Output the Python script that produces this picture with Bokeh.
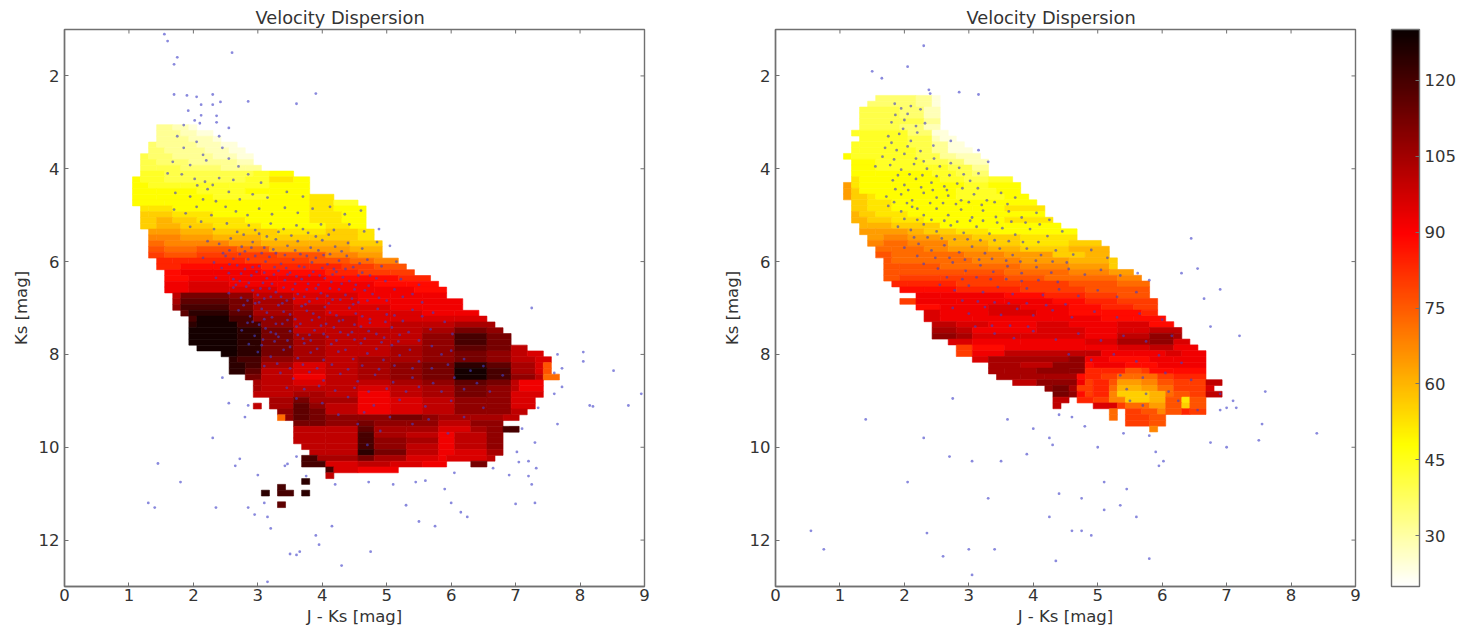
import math
from bokeh.plotting import figure
from bokeh.layouts import row
from bokeh.models import ColumnDataSource, LinearColorMapper, ColorBar, FixedTicker
from bokeh.embed import file_html
from bokeh.resources import INLINE

TITLE = "Velocity Dispersion"
X_LABEL = "J - Ks [mag]"
Y_LABEL = "Ks [mag]"
X_TICKS = [0, 1, 2, 3, 4, 5, 6, 7, 8, 9]
Y_TICKS = [2, 4, 6, 8, 10, 12]
BAR_TICKS = [30, 45, 60, 75, 90, 105, 120]
V_MIN, V_MAX = 20, 130
BIN_X, BIN_Y = 0.125, 0.125
LEFT_X0, LEFT_Y0 = 1.055, 3.05
RIGHT_X0, RIGHT_Y0 = 1.055, 2.42
LEVELS = {c: 24 + 4 * i for i, c in enumerate("abcdefghijklmnopqrstuvwxyzA")}

# each row of bins: first bin, then <level><end bin>; "_" = empty bins
LEFT_ROWS = [
"3 c5 b7 a8","3 c6 b8 a10","3 c7 b10 a11","2 d3 c8 b11 a13","2 d4 c9 b12 a14","1 e2 d5 c10 b13 a15",
"1 e3 d7 c11 c13 b15","1 e3 e6 d11 c14 c16","1 f4 e10 e15 f17 g20","0 g1 f4 e10 e14 f17 h20 g22",
"0 g2 f6 f12 f17 g22","0 g3 g8 f14 g17 g22","0 g3 g10 f17 g22 h25","0 g4 g16 g22 h25 f28",
"1 h2 h5 g16 g22 h25 g29","1 i2 i5 h10 g22 h26 g29","1 i3 j5 i8 h14 g22 h26 g29","1 i3 j6 i10 h16 g24 h27 g29",
"2 k3 k6 j10 i18 h24 i28 h30","2 l3 l6 k10 j16 i22 i28 h30","2 m4 l8 l12 k16 j22 j27 i31","2 n4 m8 n13 m17 k22 k27 j31",
"2 o4 n8 o13 o18 n24 l28 k31","3 p5 p7 p14 o22 n27 m30 l33","3 p6 q10 q16 p22 p26 o30 n34","4 q6 r10 r16 q24 p28 o32 o35",
"4 q7 r12 r18 r24 q28 q33 p37","4 r7 s12 r18 r30 q34 q38","4 r7 s12 s18 r30 r35 q39",
"5 t6 w12 v15 t20 s24 s28 r32 r36 r39","5 u6 x12 w15 u20 s24 s28 r32 r36 r41","5 v6 y12 w15 u20 t24 s28 s32 r36 r41",
"6 x7 z12 x15 u20 t24 s28 s32 s36 r40 r43","7 y8 A12 y15 v20 t24 t28 s32 s36 s40 s44","7 z8 A13 y16 v20 t24 t28 s32 t36 t40 u45",
"7 A13 z16 w20 t24 t28 t32 t36 u40 w44 v46","7 A13 z16 w20 u24 t28 t32 t36 v40 y44 w47","7 A13 z16 w20 u24 t28 t32 t36 v40 y44 w47",
"8 A13 z16 w20 u24 t28 t32 u36 v40 x44 w47 t49","11 A13 z16 w20 u24 t28 t32 u36 v40 w44 v47 t49 s51","12 z13 y16 v20 u24 t28 u32 u36 v40 w44 v47 t50 s52",
"12 z14 y16 u20 s24 t28 u32 v36 w40 z44 x47 u50 s51 n52","12 z14 x16 t20 s24 t28 u32 v36 w40 A44 y47 u50 s51 n52","14 w16 t20 r24 t28 u32 v36 w40 A44 y47 v50 t51 m53",
"15 u16 t20 s24 t28 t32 u36 v40 x44 w47 t48 r51","15 u16 t20 t24 t28 s32 t36 u40 w44 v47 t48 r51","15 t20 u22 u24 t28 r32 t36 u40 w44 v47 s51",
"17 u20 w22 u28 r32 s36 t40 v44 v47 s50","15 t16 _17 u20 x22 v24 t28 r32 s36 t40 v44 v47 s50","18 v20 x22 w24 t28 r32 s36 t40 v44 v47 t49",
"18 m19 v20 x22 w24 v28 v32 w36 v38 u42 u46 t48","20 w22 w24 v28 w30 v34 v38 t42 v46","20 t24 t28 x30 u34 u38 s42 u44 v46 y48","20 t24 t28 y30 u34 t38 r40 t44 v46",
"20 t24 t28 y30 v34 u38 r40 t44 v46","21 t24 t28 y30 v34 t38 r40 t44 v46","22 t24 t28 z30 w34 t38 r40 s44 u46","21 y23 u28 w30 u34 s38 r39 s44 t45",
"21 y24 s28 t32 s36 r39 _42 w44","24 y25 s28 r33","24 t25","21 z22","18 y19","16 z17 _18 y20 _21 z22","","18 x19",
]
RIGHT_ROWS = [
"4 d9 c11 a12","3 d9 c11 a12","2 e7 d10 b12","2 e7 d10 b12","2 e7 e10 c12","2 e7 d10 b12","1 f2 f8 d11 a13","2 f8 e11 b12 a14",
"1 f2 f8 e11 c13 a15","1 f2 f9 e11 c13 a16","0 g1 f9 e12 c14 b17","1 g4 f10 e13 d15 b18","1 g4 f11 f13 e16 c18","1 g4 g11 f14 e16 d18",
"1 h2 g6 g12 f15 e18 f21","0 k1 h2 g6 g15 f18 g22","0 k1 i2 g8 g14 f19 g22","0 k1 i3 h4 g14 f20 g23","1 i3 h6 g24","1 i3 h6 g16 g20 h25",
"1 j2 i4 h8 g25","1 j3 i6 h10 g20 h26","2 j3 j6 i12 g20 g27","2 k4 k8 j10 i14 h18 g29","3 k5 l8 k12 j16 i22 h29","3 l5 m8 l13 j18 i22 h28 i32",
"4 m6 m10 l13 k18 j22 i28 j33","4 n6 m9 m15 l20 k26 i30 j33","5 n6 m10 m16 l22 k28 j33 i34","5 n7 n12 m22 l28 k33 i34","5 n7 n15 n20 m28 l33 k36",
"5 n7 o12 o20 n25 m28 m34 l37","6 p8 p14 o22 o28 n34 m38","7 q10 q14 p22 o30 n38","9 r12 r20 q25 p30 o34 n38","7 o9 r14 r20 r26 q30 p34 o39",
"9 q12 r18 s22 r28 q32 p36 o39","10 s12 r18 s24 r28 q32 q37 p39","10 s12 r16 r26 r32 q36 q40","11 t14 s18 r24 s28 r34 s38 q41","11 u14 t16 r24 s30 r34 s36 s38 t42",
"11 v14 u16 s22 s30 r34 t38 v41 u42","13 s16 r22 r30 s34 u38 v41 s43","14 o16 q20 r30 r34 s38 t41 r44","14 o16 r20 t30 t32 r36 r40 s42 r45",
"16 s18 u28 v30 r33 q38 r41 r45","18 u22 t26 v30 q31 r35 q37 q39 r45","18 u20 u24 v28 v30 p32 p35 n37 o38 q41 q45","19 u22 u25 u29 q30 p32 o34 m36 m39 o41 p45",
"21 t24 v26 v29 r30 o31 p33 n34 k37 l39 n41 o43 o45 t47","25 v26 w28 u29 o31 p33 m34 j37 k39 m41 o45 s46","26 w28 v29 q30 o31 p33 l34 i38 j40 m41 n43 o45 t47",
"26 t28 _29 p31 o33 l35 i38 j40 n42 h43 n45","26 t27 _31 s34 o35 m38 k40 n42 i43 n45","33 m34 _35 o37 n39 l40 n42 p43 o45","33 m34 _35 o38 n40","35 o38 n40","38 l39",
]

LEFT_POINTS = [
(1.55,1.1),(1.6,1.25),(1.7,1.75),(1.75,1.6),(2.6,1.5),(1.7,2.4),(1.9,2.42),(2.05,2.45),(2.3,2.4),(2.85,2.55),(3.6,2.6),(3.9,2.38),(2.3,2.62),(1.92,2.75),(2.12,2.62),(2.42,2.56),(2.12,2.85),(2.36,2.86),(2.1,3.02),(1.85,3.06),(2.02,2.96),(2.36,3.0),(2.55,3.12),
(7.25,7.0),(7.65,8.0),(7.72,8.3),(7.6,8.4),(8.05,7.95),(8.05,8.15),(8.15,9.1),(8.2,9.12),(8.52,8.35),(8.75,9.1),(8.95,8.85),(7.6,8.85),(7.72,8.7),(7.65,9.5),(7.35,9.15),(7.3,9.9),(7.1,9.6),(7.02,10.1),(7.32,10.45),(7.2,10.3),(7.05,10.32),(6.9,10.6),(7.2,10.62),(7.25,10.8),(7.3,11.2),(7.0,11.22),(6.65,10.45),
(1.45,10.35),(1.3,11.2),(1.4,11.3),(1.8,10.75),(2.3,9.8),(2.65,10.4),(2.72,10.25),(2.35,11.3),(2.85,11.3),(2.95,11.45),(3.0,10.6),(3.1,11.2),(3.15,11.5),(3.15,12.9),(3.2,11.75),(3.5,12.3),(3.6,12.32),(3.65,12.25),(3.9,11.9),(3.95,12.1),(4.3,12.55),(4.75,12.25),(3.42,10.4),(3.46,10.36),(3.75,10.62),(3.6,10.2),(2.8,9.35),(2.55,9.05),(2.85,9.1),(2.45,8.5),(4.15,11.7),(4.2,10.8),(4.72,10.75),(5.1,10.8),(5.3,11.25),(5.5,11.6),(5.75,11.7),(5.9,10.9),(6.0,11.2),(6.15,11.4),(6.25,11.5),(5.45,10.75),(5.6,10.72),(6.05,10.55),
(1.75,3.3),(2.05,3.42),(2.4,3.3),(1.85,3.55),(2.15,3.7),(2.45,3.55),(1.68,3.85),(1.95,3.92),(2.2,3.82),(2.55,3.78),(2.7,3.95),(1.6,4.1),(1.82,4.12),(2.02,4.22),(2.18,4.28),(2.3,4.35),(2.06,4.36),(2.22,4.44),(2.4,4.2),(2.62,4.24),(2.85,4.12),(3.05,4.3),(1.72,4.52),(1.95,4.6),(2.15,4.66),(2.35,4.7),(2.55,4.5),(2.72,4.66),(2.92,4.55),(3.15,4.62),(3.45,4.5),(3.7,4.6),(1.7,4.88),(1.88,4.96),(2.05,4.82),(2.28,5.0),(2.5,4.82),(2.66,4.92),(2.84,5.0),(3.02,4.86),(3.22,4.98),(3.42,4.84),(3.62,4.95),(3.85,4.86),(4.12,4.82),(4.35,4.98),(4.6,4.9),
(1.95,5.25),(2.12,5.14),(2.32,5.3),(2.52,5.18),(2.68,5.36),(2.86,5.22),(3.02,5.4),(3.2,5.18),(3.4,5.3),(3.6,5.22),(3.78,5.38),(3.98,5.2),(4.18,5.32),(4.42,5.2),(4.65,5.35),(4.88,5.3),(2.22,5.56),(2.4,5.62),(2.58,5.5),(2.75,5.68),(2.92,5.58),(3.1,5.7),(3.28,5.52),(3.46,5.66),(3.62,5.56),(3.82,5.7),(4.0,5.54),(4.2,5.68),(4.4,5.6),(4.62,5.72),(4.85,5.58),(5.05,5.66),
(2.15,5.92),(2.32,6.02),(2.5,5.88),(2.68,6.08),(2.85,5.95),(3.02,6.1),(3.18,5.9),(3.36,6.05),(3.55,5.96),(3.72,6.12),(3.9,5.92),(4.08,6.06),(4.26,5.98),(4.48,6.12),(4.7,5.96),(4.92,6.1),(5.15,6.0),(2.35,6.35),(2.55,6.25),(2.72,6.42),(2.9,6.3),(3.08,6.46),(3.25,6.28),(3.42,6.4),(3.6,6.32),(3.78,6.48),(3.96,6.3),(4.14,6.44),(4.32,6.34),(4.52,6.5),(4.74,6.3),(4.98,6.42),(5.22,6.38),(5.5,6.5),
(2.55,6.68),(2.74,6.78),(2.92,6.62),(3.1,6.8),(3.28,6.66),(3.45,6.84),(3.62,6.7),(3.8,6.86),(3.98,6.68),(4.16,6.82),(4.36,6.72),(4.56,6.88),(4.78,6.7),(5.0,6.84),(5.25,6.76),(5.55,6.88),(2.7,7.05),(2.88,7.18),(3.06,7.02),(3.22,7.2),(3.4,7.08),(3.58,7.24),(3.76,7.06),(3.95,7.2),(4.12,7.1),(4.32,7.26),(4.52,7.12),(4.74,7.24),(5.0,7.14),(5.25,7.28),(5.55,7.18),(5.9,7.3),
(2.75,7.48),(2.95,7.6),(3.12,7.44),(3.32,7.62),(3.5,7.5),(3.7,7.66),(3.88,7.48),(4.08,7.62),(4.28,7.52),(4.5,7.68),(4.72,7.5),(4.96,7.64),(5.2,7.58),(5.5,7.7),(3.0,7.95),(3.2,8.05),(3.4,7.9),(3.62,8.08),(3.82,7.96),(4.02,8.12),(4.25,7.94),(4.48,8.1),(4.7,7.98),(4.95,8.12),(5.2,8.02),(5.5,8.15),(5.85,8.0),(6.2,8.1),(6.5,8.25),
(3.35,8.4),(3.55,8.52),(3.8,8.38),(4.02,8.56),(4.28,8.42),(4.55,8.58),(4.82,8.44),(5.1,8.6),(5.4,8.5),(5.72,8.62),(6.05,8.5),(6.4,8.62),(6.8,8.45),(3.6,8.95),(4.0,9.05),(4.4,8.92),(4.8,9.1),(5.2,8.98),(5.6,9.12),(6.0,9.0),(6.5,9.15),(4.55,9.5),(4.9,9.65),(5.4,9.5),(5.95,9.7),(4.7,9.95),
(2.46,5.82),(2.62,5.94),(2.8,5.78),(2.96,5.88),(3.12,6.0),(3.28,5.82),(3.44,6.14),(3.66,5.84),(3.84,6.02),(4.02,5.86),(4.18,6.16),(4.38,5.88),(4.58,6.04),(2.44,6.14),(2.62,6.38),(2.8,6.16),(2.98,6.22),(3.14,6.36),(3.32,6.2),(3.5,6.24),(3.68,6.38),(3.86,6.22),(4.04,6.36),(4.22,6.22),(4.42,6.42),(4.62,6.24),(4.84,6.36),
(2.62,6.56),(2.82,6.54),(3.0,6.72),(3.18,6.58),(3.36,6.76),(3.54,6.6),(3.72,6.76),(3.9,6.58),(4.08,6.74),(4.26,6.6),(4.46,6.8),(4.66,6.62),(4.88,6.78),(5.12,6.6),(5.4,6.7),(2.78,6.94),(2.96,6.9),(3.14,7.1),(3.32,6.94),(3.5,7.14),(3.68,6.96),(3.86,7.12),(4.04,6.98),(4.22,7.16),(4.42,7.0),(4.62,7.18),(4.86,7.02),(5.12,7.16),(5.4,7.04),(5.72,7.1),
(2.84,7.32),(3.02,7.36),(3.2,7.52),(3.38,7.34),(3.6,7.4),(3.8,7.58),(3.98,7.38),(4.18,7.42),(4.4,7.58),(4.6,7.4),(4.84,7.56),(5.08,7.42),(5.34,7.52),(5.68,7.46),(6.02,7.56),(2.86,7.78),(3.06,7.8),(3.26,7.72),(3.5,7.84),(3.72,7.76),(3.92,7.88),(4.14,7.78),(4.36,7.9),(4.6,7.76),(4.84,7.88),(5.08,7.8),(5.36,7.9),(5.7,7.82),(6.0,7.92),
(3.1,8.25),(3.3,8.2),(3.5,8.3),(3.7,8.22),(3.92,8.3),(4.15,8.22),(4.4,8.32),(4.62,8.24),(4.88,8.32),(5.12,8.24),(5.4,8.3),(5.7,8.3),(5.95,8.22),(6.3,8.35),(3.45,8.72),(3.72,8.75),(3.95,8.68),(4.2,8.78),(4.5,8.72),(4.72,8.8),(5.0,8.74),(5.3,8.8),(5.5,8.7),(5.85,8.8),(6.2,8.75),(6.6,8.8),(4.25,9.3),(4.65,9.25),(5.05,9.35),(5.65,9.4),(6.2,9.35),
(2.78,5.42),(2.96,5.32),(3.14,5.46),(3.32,5.36),(3.52,5.44),(3.7,5.3),(3.9,5.46),(4.1,5.42),(2.56,5.76),(2.72,5.84),(2.9,5.7),(3.06,5.82),(3.24,5.74),(3.42,5.86),(3.58,5.76),(3.76,5.88),(3.94,5.76),(4.12,5.84),(4.3,5.78),(2.56,6.06),(2.74,6.26),(2.92,6.12),(3.1,6.24),(3.26,6.12),(3.46,6.28),(3.64,6.1),(3.8,6.3),(4.0,6.14),(4.16,6.28),(4.36,6.16),(4.56,6.3),
(2.66,6.5),(2.86,6.46),(3.04,6.58),(3.22,6.48),(3.4,6.56),(3.58,6.48),(3.76,6.6),(3.94,6.5),(4.12,6.58),(4.3,6.48),(4.5,6.6),(4.72,6.52),(2.84,6.84),(3.02,6.88),(3.2,6.76),(3.38,6.9),(3.56,6.8),(3.74,6.92),(3.92,6.8),(4.1,6.9),(4.28,6.82),(4.48,6.92),(4.7,6.84),(2.92,7.3),(3.1,7.24),(3.28,7.34),(3.46,7.26),(3.66,7.34),(3.84,7.26),(4.06,7.34),(4.26,7.28),(4.5,7.36),(4.74,7.32),(4.98,7.3),(3.08,7.68),(3.28,7.56),(3.46,7.7),(3.62,7.58),(3.82,7.7),(4.02,7.56),(4.22,7.7),(4.46,7.52),(4.66,7.66),(4.92,7.74),(5.18,7.72),
]
RIGHT_POINTS = [
(1.5,1.9),(1.65,2.05),(2.05,1.8),(2.3,1.35),(2.38,2.3),(2.4,2.38),(2.85,2.35),(3.15,2.4),
(1.85,2.6),(1.95,2.7),(2.1,2.65),(2.25,2.72),(1.8,3.0),(2.0,2.95),(2.18,3.08),(2.32,3.02),(1.75,3.3),(1.92,3.25),(2.1,3.4),(1.7,3.55),(1.88,3.6),(2.05,3.52),(2.25,3.62),(2.45,3.5),(2.72,3.4),(3.15,3.6),(1.55,3.95),(1.78,3.92),(1.95,4.02),(2.15,3.9),(2.35,4.0),(2.55,3.95),(2.72,3.88),(2.85,3.98),(3.3,3.85),(3.15,4.1),(1.82,4.25),(2.0,4.35),(2.18,4.22),(2.42,4.3),(2.62,4.38),(2.82,4.32),(3.02,4.26),(1.72,4.6),(1.95,4.55),(2.12,4.68),(2.3,4.52),(2.5,4.62),(2.68,4.58),(2.88,4.68),(3.08,4.55),(3.28,4.68),(3.5,4.52),(3.72,4.62),(1.75,4.8),(1.95,4.92),(2.12,4.82),(2.3,5.0),(2.5,4.86),(2.68,5.0),(2.88,4.88),(3.05,5.05),(3.22,4.9),(3.42,5.04),(3.62,4.92),(3.82,5.05),(4.05,4.95),(4.25,5.1),(1.9,5.25),(2.1,5.32),(2.3,5.2),(2.5,5.35),(2.72,5.22),(2.92,5.38),(3.12,5.25),(3.32,5.4),(3.52,5.28),(3.72,5.42),(3.95,5.3),(4.22,5.45),(4.45,5.35),
(2.0,5.7),(2.22,5.62),(2.42,5.76),(2.62,5.65),(2.85,5.8),(3.05,5.68),(3.25,5.82),(3.48,5.72),(3.68,5.86),(3.9,5.72),(4.12,5.86),(4.35,5.76),(4.62,5.85),(4.9,5.75),(5.15,5.92),(2.3,6.05),(2.52,6.15),(2.75,6.02),(2.95,6.2),(3.18,6.08),(3.38,6.22),(3.6,6.1),(3.82,6.25),(4.05,6.12),(4.28,6.24),(4.55,6.16),(4.8,6.28),(5.05,6.18),(5.35,6.3),(5.62,6.25),(5.8,6.4),
(2.55,6.5),(2.78,6.62),(3.0,6.52),(3.22,6.66),(3.45,6.55),(3.68,6.7),(3.9,6.58),(4.15,6.72),(4.4,6.6),(4.7,6.74),(5.0,6.62),(5.3,6.76),(5.6,6.66),(2.75,7.0),(3.0,7.12),(3.25,6.98),(3.5,7.15),(3.75,7.02),(4.0,7.16),(4.3,7.05),(4.6,7.2),(4.95,7.08),(5.3,7.2),(5.65,7.12),(6.0,7.25),(3.4,7.55),(3.7,7.65),(4.0,7.5),(4.35,7.68),(4.7,7.55),(5.05,7.7),(5.4,7.6),(5.75,7.72),(6.15,7.6),
(4.55,8.0),(4.9,8.12),(5.25,8.0),(5.6,8.15),(5.95,8.02),(6.3,8.18),(5.35,8.45),(5.7,8.5),(6.05,8.4),(6.45,8.55),(5.45,8.75),(5.75,8.85),(6.1,8.8),(5.5,9.0),(5.7,9.1),(6.25,9.0),(6.55,9.2),(6.9,8.85),
(6.45,5.5),(6.3,6.25),(6.55,6.15),(6.65,6.8),(6.9,6.6),(6.75,7.4),(7.2,7.6),(7.6,8.8),(7.55,9.5),(7.5,9.85),(7.1,9.0),(7.0,9.15),(7.15,9.15),(6.9,9.2),(7.0,10.0),(6.75,9.9),(8.4,9.7),
(1.4,9.4),(0.55,11.8),(0.75,12.2),(2.05,10.75),(2.3,9.8),(2.7,10.2),(2.75,8.95),(2.35,11.85),(2.6,12.35),(3.0,12.2),(3.05,12.75),(3.05,10.3),(3.4,12.2),(3.3,11.1),(3.5,10.3),(3.6,9.4),(3.9,10.15),(4.0,9.6),(4.25,9.8),(4.3,9.95),(4.25,11.5),(4.35,12.45),(4.4,11.0),(4.6,11.8),(4.75,11.8),(4.75,11.1),(4.9,11.9),(5.1,10.75),(5.1,11.35),(5.35,11.25),(5.45,10.9),(5.6,11.5),(5.8,12.4),(5.9,10.1),(5.95,10.4),(6.02,10.3),(5.8,9.75),(5.4,9.7),(4.4,9.3),(4.8,9.55),(4.6,9.35),(5.0,10.0),
(1.86,2.84),(2.05,2.82),(1.98,3.14),(2.2,3.22),(1.8,3.44),(2.0,3.68),(2.18,3.78),(1.66,3.74),(1.84,3.8),(2.3,3.84),(2.46,3.78),(1.9,4.14),(2.08,4.12),(2.28,4.14),(2.5,4.16),(2.7,4.14),(2.92,4.12),(1.86,4.44),(2.06,4.46),(2.26,4.4),(2.44,4.46),(2.66,4.46),(2.9,4.42),(3.14,4.42),(1.84,4.72),(2.04,4.74),(2.2,4.86),(2.4,4.74),(2.6,4.74),(2.8,4.76),(3.0,4.72),(3.2,4.78),(3.4,4.72),(3.6,4.76),(2.0,5.08),(2.2,5.1),(2.42,5.1),(2.62,5.12),(2.82,5.14),(3.02,5.12),(3.22,5.12),(3.44,5.16),(3.66,5.14),(3.88,5.16),(4.1,5.2),(2.15,5.48),(2.36,5.48),(2.58,5.5),(2.78,5.52),(2.98,5.52),(3.18,5.54),(3.4,5.54),(3.62,5.56),(3.84,5.58),(4.08,5.58),(2.2,5.88),(2.48,5.92),(2.7,5.92),(2.94,5.96),(3.16,5.96),(3.36,5.94),(3.58,5.98),(3.8,6.0),(4.04,5.98),(4.3,6.0),(4.52,6.02),(2.66,6.34),(2.9,6.38),(3.12,6.34),(3.34,6.38),(3.58,6.38),(3.82,6.42),(4.08,6.4),(4.38,6.44),(2.9,6.84),(3.14,6.86),(3.4,6.88),(3.62,6.9),(3.9,6.9),(4.2,6.94),(4.5,6.92),(3.1,7.4),(3.36,7.38),(3.64,7.38),(3.92,7.4),
]


def hot_r_palette():
    pal = []
    for i in range(256):
        t = 1 - i / 255
        r = min(1, 0.0416 + t / 0.365 * 0.9584)
        g = min(1, max(0, (t - 0.365) / 0.381))
        b = min(1, max(0, (t - 0.746) / 0.254))
        pal.append("#%02x%02x%02x" % (int(r * 255), int(g * 255), int(b * 255)))
    return pal


def cells(rows, x0, y0):
    d = dict(left=[], right=[], top=[], bottom=[], v=[])
    for j, row_text in enumerate(rows):
        parts = row_text.split()
        if not parts:
            continue
        c = int(parts[0])
        for tok in parts[1:]:
            end = int(tok[1:])
            if tok[0] != "_":
                d["left"].append(x0 + c * BIN_X)
                d["right"].append(x0 + end * BIN_X)
                d["top"].append(y0 + j * BIN_Y)
                d["bottom"].append(y0 + (j + 1) * BIN_Y)
                d["v"].append(LEVELS[tok[0]])
            c = end
    return ColumnDataSource(d)


mapper = LinearColorMapper(palette=hot_r_palette(), low=V_MIN, high=V_MAX)
GRAY = "#707070"
TXT = "#333333"


def style_axis(ax, ticks, tick_standoff, standoff):
    ax.ticker = FixedTicker(ticks=ticks)
    ax.axis_line_color = GRAY
    ax.axis_line_width = 1.4
    ax.major_tick_line_color = GRAY
    ax.major_tick_in = 4
    ax.major_tick_out = 0
    ax.minor_tick_line_color = None
    ax.major_label_text_font = "DejaVu Sans"
    ax.major_label_text_font_size = "16.5px"
    ax.major_label_text_color = TXT
    ax.major_label_standoff = tick_standoff
    ax.axis_label_text_font = "DejaVu Sans"
    ax.axis_label_text_font_size = "16.5px"
    ax.axis_label_text_font_style = "normal"
    ax.axis_label_text_color = TXT
    ax.axis_label_standoff = standoff


def panel(rows, x0, y0, pts, border_left, border_right):
    p = figure(x_range=(0, 9), y_range=(13, 1), frame_width=580, frame_height=557,
               min_border_left=border_left, min_border_right=border_right, min_border_top=29,
               min_border_bottom=40, toolbar_location=None, output_backend="svg",
               x_axis_label=X_LABEL, y_axis_label=Y_LABEL, title=TITLE)
    p.grid.visible = False
    p.background_fill_color = "white"
    p.outline_line_color = GRAY
    p.outline_line_width = 1.4
    p.title.align = "left"
    p.title.offset = 191
    p.title.text_font = "DejaVu Sans"
    p.title.text_font_style = "normal"
    p.title.text_font_size = "17.8px"
    p.title.text_color = TXT
    p.title.standoff = 4
    style_axis(p.xaxis[0], X_TICKS, 2, 3)
    style_axis(p.yaxis[0], Y_TICKS, 5, 5)
    src = cells(rows, x0, y0)
    p.quad(left="left", right="right", top="top", bottom="bottom", source=src,
           fill_color={"field": "v", "transform": mapper},
           line_color={"field": "v", "transform": mapper}, line_width=0.6)
    p.scatter([a for a, _ in pts], [b for _, b in pts], size=2.8, marker="circle",
              fill_color="#4040c8", fill_alpha=0.62, line_color=None)
    # tick marks mirrored on the top and right frame edges
    p.scatter(X_TICKS, [1] * len(X_TICKS), marker="dash", size=8, angle=math.pi / 2, line_color=GRAY)
    p.scatter([9] * len(Y_TICKS), Y_TICKS, marker="dash", size=8, line_color=GRAY)
    return p


p1 = panel(LEFT_ROWS, LEFT_X0, LEFT_Y0, LEFT_POINTS, 64, 55)
p2 = panel(RIGHT_ROWS, RIGHT_X0, RIGHT_Y0, RIGHT_POINTS, 76, 105)

bar = ColorBar(color_mapper=mapper, ticker=FixedTicker(ticks=BAR_TICKS), width=28, height=557,
               padding=0, margin=0, location=(616, 0), bar_line_color=GRAY, bar_line_width=1.4,
               major_tick_line_color=GRAY, major_tick_in=4, major_tick_out=0,
               minor_tick_line_color=None, major_label_text_font="DejaVu Sans",
               major_label_text_font_size="16.5px", major_label_text_color=TXT,
               label_standoff=5)
p2.add_layout(bar, "center")

page = row(p1, p2)
open("out.html", "w").write(file_html(page, INLINE))
